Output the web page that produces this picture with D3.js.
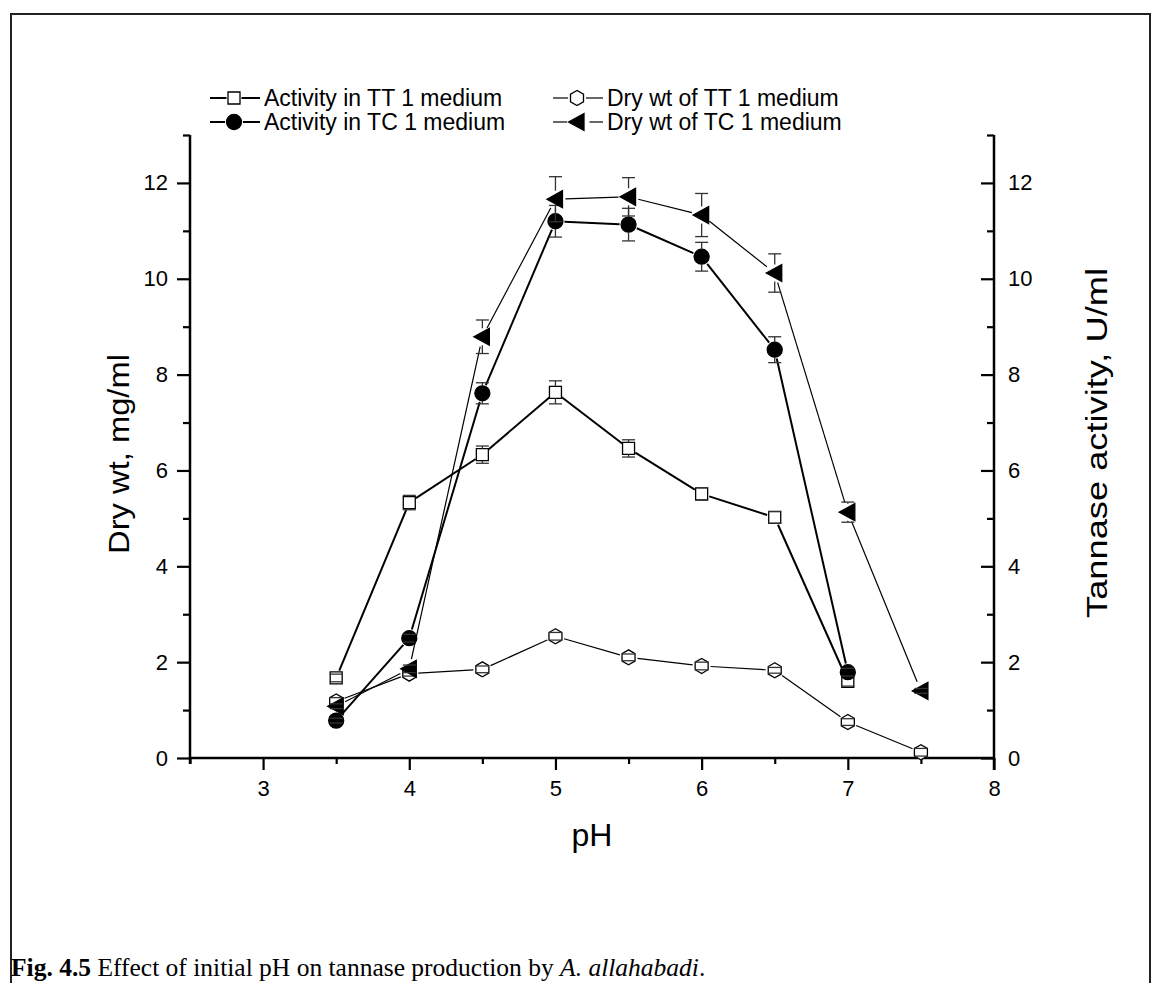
<!DOCTYPE html>
<html><head><meta charset="utf-8">
<script src="https://cdn.jsdelivr.net/npm/d3@7"></script>
<style>
html,body{margin:0;padding:0;background:#fff;}
svg text{font-family:"Liberation Sans",Arial,sans-serif;fill:#000;}
</style></head>
<body>
<svg id="chart" width="1152" height="983"></svg>
<script>
// ---- data ----
const pH = [3.5, 4, 4.5, 5, 5.5, 6, 6.5, 7, 7.5];
const activityTT    = [1.67, 5.33, 6.33, 7.63, 6.46, 5.51, 5.02, 1.60, null];
const activityTTErr = [0.08, 0.15, 0.18, 0.24, 0.18, 0.13, 0.12, 0.10, null];
const activityTC    = [0.78, 2.50, 7.61, 11.20, 11.13, 10.46, 8.52, 1.79, null];
const activityTCErr = [0.05, 0.08, 0.22, 0.33, 0.34, 0.30, 0.27, 0.08, null];
const dryTT    = [1.18, 1.76, 1.85, 2.54, 2.10, 1.92, 1.83, 0.75, 0.12];
const dryTTErr = [0.08, 0.05, 0.07, 0.08, 0.07, 0.08, 0.06, 0.07, 0.08];
const dryTC    = [1.08, 1.86, 8.79, 11.66, 11.71, 11.33, 10.12, 5.13, 1.40];
const dryTCErr = [0.05, 0.08, 0.35, 0.47, 0.40, 0.45, 0.40, 0.21, 0.05];
const legendLabels = ["Activity in TT 1 medium", "Activity in TC 1 medium", "Dry wt of TT 1 medium", "Dry wt of TC 1 medium"];
const xTicks = [3, 4, 5, 6, 7, 8];
const xMinor = [2.5, 3.5, 4.5, 5.5, 6.5, 7.5];
const yTicks = [0, 2, 4, 6, 8, 10, 12];
const yMinor = [1, 3, 5, 7, 9, 11, 13];

// ---- layout ----
const svg = d3.select("#chart");
const L = 190, R = 994, T = 135, B = 758;
const x = d3.scaleLinear().domain([2.5, 8]).range([L, R]);
const yL = d3.scaleLinear().domain([0, 13]).range([B, T]);
const yR = d3.scaleLinear().domain([0, 13]).range([B, T]);

// frame
svg.append("rect").attr("x", 11).attr("y", 14).attr("width", 1139).attr("height", 1100)
  .attr("fill", "none").attr("stroke", "#222").attr("stroke-width", 2);

// axes
function styleAxis(g, fs) {
  g.select(".domain").remove();
  g.selectAll(".tick line").attr("stroke", "#000").attr("stroke-width", 2.2);
  g.selectAll(".tick text").style("font-size", fs + "px");
}
// bottom
const gx = svg.append("g").attr("transform", `translate(0,${B})`)
  .call(d3.axisBottom(x).tickValues(xTicks).tickSize(12).tickPadding(10).tickFormat(d3.format("d")));
styleAxis(gx, 22);
svg.append("g").attr("transform", `translate(0,${B})`)
  .call(d3.axisBottom(x).tickValues(xMinor).tickSize(6).tickFormat(""))
  .call(g => styleAxis(g, 22));
// left
const gy = svg.append("g").attr("transform", `translate(${L},0)`)
  .call(d3.axisLeft(yL).tickValues(yTicks).tickSize(13).tickPadding(9).tickFormat(d3.format("d")));
styleAxis(gy, 22);
svg.append("g").attr("transform", `translate(${L},0)`)
  .call(d3.axisLeft(yL).tickValues(yMinor).tickSize(7).tickFormat(""))
  .call(g => styleAxis(g, 22));
// right (ticks inward)
const gr = svg.append("g").attr("transform", `translate(${R},0)`)
  .call(d3.axisRight(yR).tickValues(yTicks).tickSizeInner(-13).tickSizeOuter(0).tickPadding(14).tickFormat(d3.format("d")));
styleAxis(gr, 22);
gr.selectAll(".tick text").attr("x", 14);
svg.append("g").attr("transform", `translate(${R},0)`)
  .call(d3.axisRight(yR).tickValues(yMinor).tickSizeInner(-7).tickSizeOuter(0).tickFormat(""))
  .call(g => styleAxis(g, 22));
// axis lines
svg.append("line").attr("x1", L).attr("x2", L).attr("y1", T).attr("y2", B + 6).attr("stroke", "#000").attr("stroke-width", 2.5);
svg.append("line").attr("x1", R).attr("x2", R).attr("y1", T).attr("y2", B + 12).attr("stroke", "#000").attr("stroke-width", 2.5);
svg.append("line").attr("x1", L).attr("x2", R).attr("y1", B).attr("y2", B).attr("stroke", "#000").attr("stroke-width", 2.5);

// titles
svg.append("text").attr("x", (L + R) / 2).attr("y", 846).attr("text-anchor", "middle")
  .style("font-size", "32px").text("pH");
svg.append("text").attr("transform", "translate(118,454) rotate(-90)").attr("text-anchor", "middle")
  .attr("dy", "0.36em").style("font-size", "30px")
  .attr("textLength", 200).attr("lengthAdjust", "spacingAndGlyphs").text("Dry wt, mg/ml");
svg.append("text").attr("transform", "translate(1096,443) rotate(-90)").attr("text-anchor", "middle")
  .attr("dy", "0.36em").style("font-size", "30px")
  .attr("textLength", 350).attr("lengthAdjust", "spacingAndGlyphs").text("Tannase activity, U/ml");

// caption
const cap = svg.append("text").attr("x", 11).attr("y", 976)
  .style("font-family", '"Liberation Serif","Times New Roman",serif').style("font-size", "25.5px");
cap.append("tspan").style("font-weight", "bold").text("Fig. 4.5");
cap.append("tspan").text(" Effect of initial pH on tannase production by ");
cap.append("tspan").style("font-style", "italic").text("A. allahabadi");
cap.append("tspan").text(".");

// markers
const hexPath = r => { const p = []; for (let i = 0; i < 6; i++) { const a = Math.PI / 2 + i * Math.PI / 3; p.push([r * Math.cos(a), -r * Math.sin(a)]); } return "M" + p.map(q => q.join(",")).join("L") + "Z"; };
const markers = {
  square: { path: "M-6,-6H6V6H-6Z", fill: "#fff", half: 6, gap: 8 },
  circle: { path: d3.symbol().type(d3.symbolCircle).size(Math.PI * 7.5 * 7.5)(), fill: "#000", half: 7.5, gap: 9 },
  hex: { path: hexPath(7.5), fill: "#fff", half: 7.5, gap: 9 },
  tri: { path: "M-8.5,0L7,-8.5L7,8.5Z", fill: "#000", half: 8.5, gap: 10 }
};

const series = [
  { vals: activityTT, err: activityTTErr, scale: yR, m: "square", lw: 2 },
  { vals: activityTC, err: activityTCErr, scale: yR, m: "circle", lw: 2 },
  { vals: dryTT, err: dryTTErr, scale: yL, m: "hex", lw: 1.2 },
  { vals: dryTC, err: dryTCErr, scale: yL, m: "tri", lw: 1.2 }
];

series.forEach(s => {
  const mk = markers[s.m];
  const pts = pH.map((p, i) => ({ p, v: s.vals[i], e: s.err[i] })).filter(d => d.v != null);
  const g = svg.append("g");
  for (let i = 0; i < pts.length - 1; i++) {
    const x1 = x(pts[i].p), y1 = s.scale(pts[i].v), x2 = x(pts[i + 1].p), y2 = s.scale(pts[i + 1].v);
    const len = Math.hypot(x2 - x1, y2 - y1);
    if (len <= 2 * mk.gap) continue;
    const ux = (x2 - x1) / len, uy = (y2 - y1) / len;
    g.append("line").attr("x1", x1 + ux * mk.gap).attr("y1", y1 + uy * mk.gap)
      .attr("x2", x2 - ux * mk.gap).attr("y2", y2 - uy * mk.gap)
      .attr("stroke", "#000").attr("stroke-width", s.lw);
  }
  g.selectAll("path.mk").data(pts).join("path").attr("class", "mk")
    .attr("transform", d => `translate(${x(d.p)},${s.scale(d.v)})`)
    .attr("d", mk.path).attr("fill", mk.fill).attr("stroke", "#000").attr("stroke-width", 1.3);
  pts.forEach(d => {
    const cx = x(d.p), cy = s.scale(d.v), yt = s.scale(d.v + d.e), yb = s.scale(d.v - d.e);
    if (cy - mk.half > yt) g.append("line").attr("x1", cx).attr("x2", cx).attr("y1", yt).attr("y2", cy - mk.half).attr("stroke", "#333").attr("stroke-width", 1.3);
    if (cy + mk.half < yb) g.append("line").attr("x1", cx).attr("x2", cx).attr("y1", yb).attr("y2", cy + mk.half).attr("stroke", "#333").attr("stroke-width", 1.3);
    [yt, yb].forEach(yy => g.append("line").attr("x1", cx - 6.5).attr("x2", cx + 6.5).attr("y1", yy).attr("y2", yy).attr("stroke", "#333").attr("stroke-width", 1.3));
  });
});

// legend
const legendPos = [[210, 98], [210, 122], [553, 98], [553, 122]];
["square", "circle", "hex", "tri"].forEach((m, i) => {
  const [lx, ly] = legendPos[i];
  const mk = markers[m];
  const lw = i < 2 ? 2 : 1.2;
  const cx = lx + 24;
  const g = svg.append("g");
  g.append("line").attr("x1", lx).attr("x2", cx - mk.half - 1.5).attr("y1", ly).attr("y2", ly).attr("stroke", "#000").attr("stroke-width", lw);
  g.append("line").attr("x1", cx + mk.half + (m === "tri" ? 4 : 1.5)).attr("x2", lx + 50).attr("y1", ly).attr("y2", ly).attr("stroke", "#000").attr("stroke-width", lw);
  g.append("path").attr("transform", `translate(${cx},${ly})`).attr("d", mk.path).attr("fill", mk.fill).attr("stroke", "#000").attr("stroke-width", 1.3);
  g.append("text").attr("x", lx + 54).attr("y", ly).attr("dy", "0.36em").style("font-size", "23px").text(legendLabels[i]);
});
</script>
</body></html>
